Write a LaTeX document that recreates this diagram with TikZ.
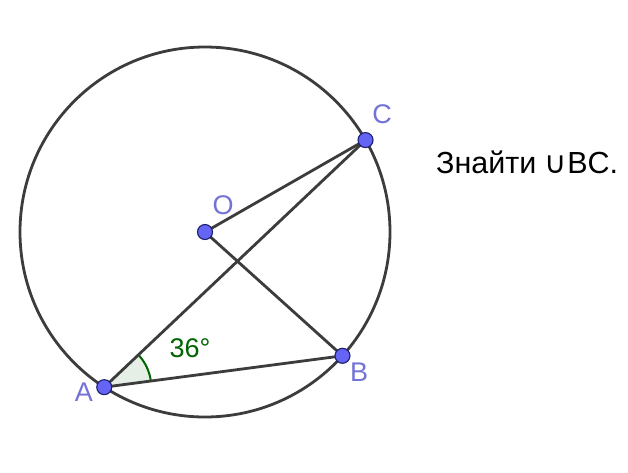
\documentclass[tikz,border=0pt]{standalone}
\usepackage{fontspec}
\setmainfont{Liberation Sans}
\newfontfamily\dejavu{DejaVu Sans}
\usetikzlibrary{angles,quotes}
\definecolor{linegray}{RGB}{60,60,60}
\definecolor{ptfill}{RGB}{100,100,245}
\definecolor{ptedge}{RGB}{30,30,110}
\definecolor{lblcol}{RGB}{115,115,215}
\definecolor{anggreen}{RGB}{0,100,0}
\tikzset{
  seg/.style={draw=linegray, line width=2.8pt},
  pt/.style={circle, fill=ptfill, draw=ptedge, line width=1.1pt, minimum size=15pt, inner sep=0pt},
  lbl/.style={text=lblcol, font=\fontsize{27}{30}\selectfont, inner sep=0pt},
}
\begin{document}
\begin{tikzpicture}[x=1pt,y=1pt]
\useasboundingbox (0,0) rectangle (628,-472);
\fill[white] (0,0) rectangle (628,-472);
\coordinate (O) at (205,-232);
\coordinate (A) at ([shift={(237:185pt)}]O);
\coordinate (B) at ([shift={(-42:185pt)}]O);
\coordinate (C) at ([shift={(29.8:185pt)}]O);
\pic[draw=anggreen, line width=2pt, fill=anggreen, fill opacity=0.1, draw opacity=1, angle radius=47pt] {angle=B--A--C};
\draw[seg] (O) circle[radius=185pt];
\draw[seg] (O) -- (C);
\draw[seg] (A) -- (C);
\draw[seg] (A) -- (B);
\draw[seg] (O) -- (B);
\node[pt] (Op) at (O) {};
\node[pt] (Ap) at (A) {};
\node[pt] (Bp) at (B) {};
\node[pt] (Cp) at (C) {};
\node[lbl] (Al) at (84,-392) {A};
\node[lbl] (Bl) at (359,-372) {B};
\node[lbl] (Cl) at (382,-114) {C};
\node[lbl] (Ol) at (223,-205) {O};
\node[text=anggreen, font=\fontsize{27}{30}\selectfont, inner sep=0pt] (ang) at (190,-348) {36°};
\node[anchor=base west, inner sep=0pt, font=\fontsize{30.5}{34}\selectfont] (task) at (436,-173) {Знайти {\dejavu ∪}BC.};
\end{tikzpicture}
\end{document}
